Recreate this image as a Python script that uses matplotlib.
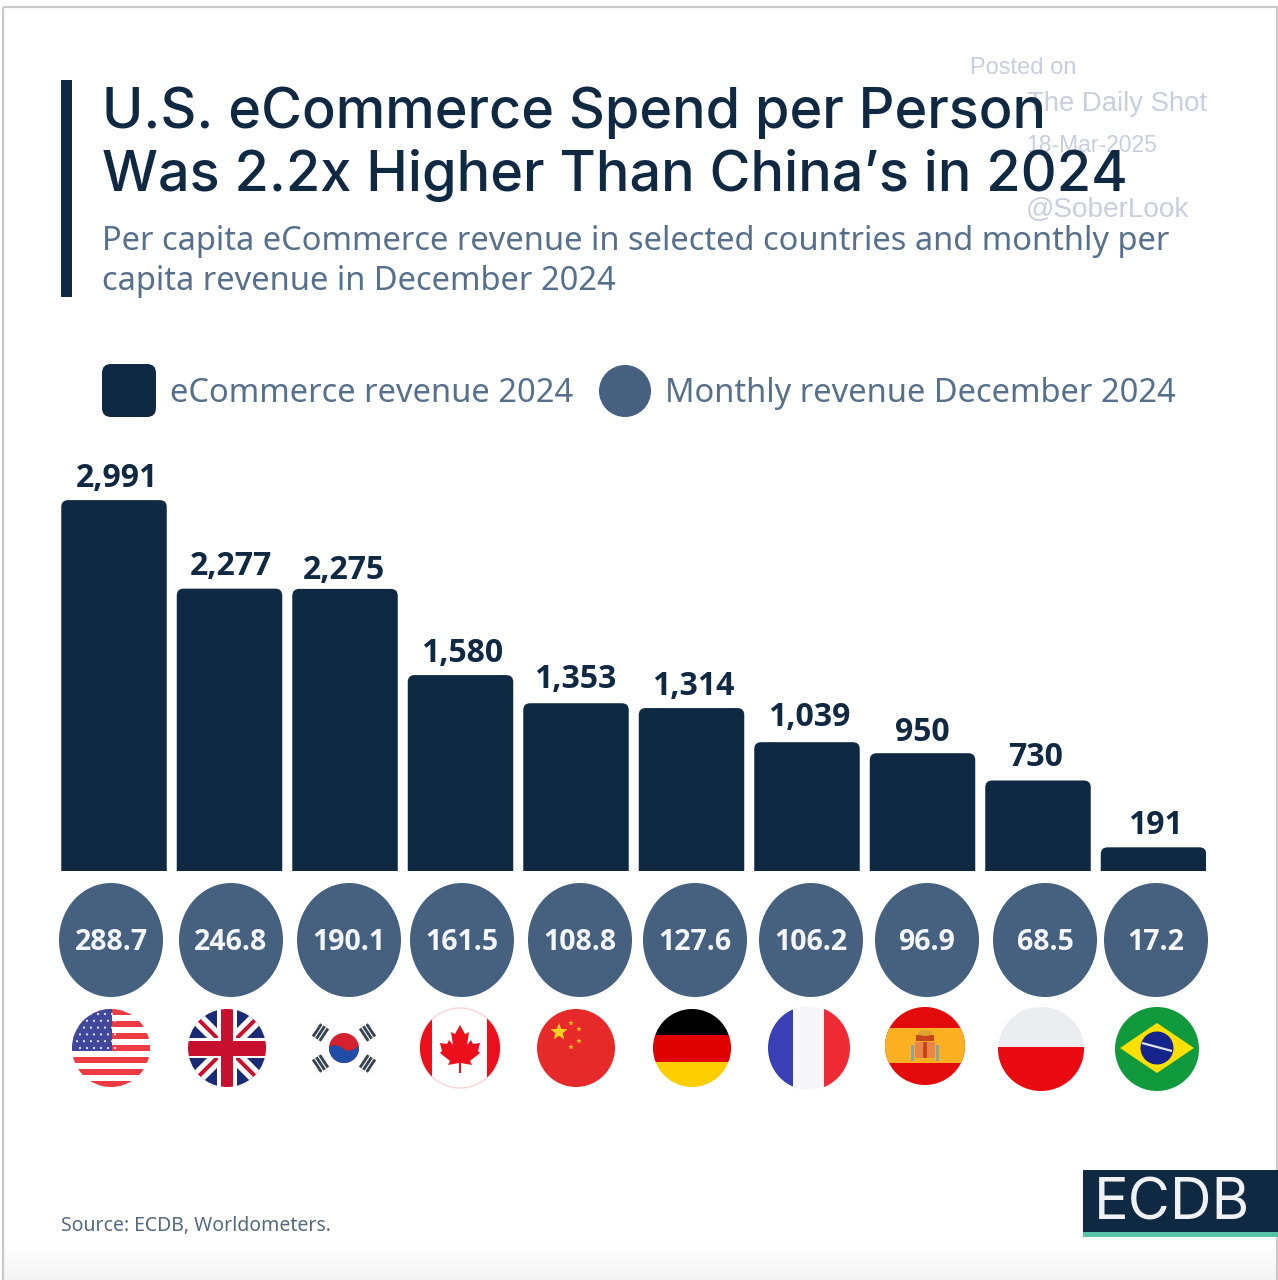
import numpy as np
import matplotlib
matplotlib.use("Agg")
import matplotlib.pyplot as plt
from matplotlib.patches import Rectangle, Ellipse, Circle, Polygon, FancyBboxPatch

# ECDB per capita eCommerce revenue chart

#---data---#
countries = ["USA", "UK", "South Korea", "Canada", "China", "Germany", "France", "Spain", "Poland", "Brazil"]
revenue_2024 = [2991, 2277, 2275, 1580, 1353, 1314, 1039, 950, 730, 191]
monthly_dec_2024 = [288.7, 246.8, 190.1, 161.5, 108.8, 127.6, 106.2, 96.9, 68.5, 17.2]

#---layout, in pixels---#
W, H = 1278, 1280
base_y = 871
px_per_unit = 0.124
bar_step = 115.5
first_center = 114
bar_w = 105.5 / bar_step
label_gap = [25, 25, 21, 25, 27, 25, 28, 24, 26, 25]
label_shift = [3, 1.5, -1.5, 2, -1, 1.5, 2.5, 0, -2, 1.5]
bubble_x = [111, 231, 349, 462, 580, 695, 811, 927, 1045, 1156]
flag_box = [(111, 1048, 39, 39), (227, 1048, 39, 39), (344, 1048, 39, 39), (460, 1048, 40, 40),
            (576, 1048, 39, 39), (692, 1048, 39, 39), (809, 1048, 41, 42), (925, 1046, 40, 39),
            (1041, 1049, 43, 42), (1157, 1049, 42, 42)]

#---colours---#
navy = "#0f2942"
slate = "#46607f"
sub_col = "#56708c"
mark_col = "#c8cfdb"

fig = plt.figure(figsize=(W / 100, H / 100), dpi=100, facecolor="white")

# full page axes in pixel coordinates
bg = fig.add_axes([0, 0, 1, 1])
bg.set_xlim(0, W)
bg.set_ylim(H, 0)
bg.axis("off")

# faint grey at the bottom of the page and the frame
shade = np.linspace(1.0, 0.955, 40).reshape(-1, 1)
bg.imshow(shade, extent=[4, W - 2, H, 1240], cmap="gray", vmin=0, vmax=1, aspect="auto", zorder=0)
bg.set_xlim(0, W)
bg.set_ylim(H, 0)
bg.add_patch(Rectangle((3, 7), W - 4, H, fc="none", ec="#c9c9c9", lw=1.6, zorder=1))

# watermark, under the title
wm = ["Liberation Sans"]
bg.text(1023, 68, "Posted on", color=mark_col, fontsize=17, family=wm, ha="center", va="center", zorder=2)
bg.text(1117, 104, "The Daily Shot", color=mark_col, fontsize=19.8, family=wm, ha="center", va="center", zorder=2)
bg.text(1092, 145, "18-Mar-2025", color=mark_col, fontsize=16.5, family=wm, ha="center", va="center", zorder=2)
bg.text(1107, 210, "@SoberLook", color=mark_col, fontsize=20.2, family=wm, ha="center", va="center", zorder=2)

# title block
title_font = dict(color=navy, fontsize=40.2, family="Inter", fontweight="medium", va="center", zorder=3)
bg.text(102, 113, "U.S. eCommerce Spend per Person", **title_font)
bg.text(102, 175, "Was 2.2x Higher Than China\u2019s in 2024", **title_font)
bg.add_patch(Rectangle((61, 80), 11, 217, fc=navy, ec="none", zorder=3))
bg.text(102, 241, "Per capita eCommerce revenue in selected countries and monthly per", color=sub_col,
        fontsize=23.5, family="Noto Sans", va="center", zorder=3)
bg.text(102, 281, "capita revenue in December 2024", color=sub_col,
        fontsize=23.5, family="Noto Sans", va="center", zorder=3)

# legend
bg.add_patch(FancyBboxPatch((102, 364), 54, 53, boxstyle="round,pad=0,rounding_size=9", fc=navy, ec="none"))
bg.add_patch(Circle((625, 391), 26, fc=slate, ec="none"))
bg.text(170, 393, "eCommerce revenue 2024", color=sub_col, fontsize=23.5, family="Noto Sans", va="center")
bg.text(665, 393, "Monthly revenue December 2024", color=sub_col, fontsize=23.5, family="Noto Sans", va="center")

#--- bars, on their own value axis ---#
ax_left, ax_right, ax_top = 61, 1206, 460
ax = fig.add_axes([ax_left / W, 1 - base_y / H, (ax_right - ax_left) / W, (base_y - ax_top) / H])
ax.set_xlim((ax_left - first_center) / bar_step, (ax_right - first_center) / bar_step)
ax.set_ylim(0, (base_y - ax_top) / px_per_unit)
ax.axis("off")
ax.patch.set_alpha(0)

for i, val in enumerate(revenue_2024):
    # box runs below zero, the axes clip gives the square foot
    ax.add_patch(FancyBboxPatch((i - bar_w / 2, -200), bar_w, val + 200,
                                boxstyle="round,pad=0,rounding_size=0.06",
                                mutation_aspect=bar_step / px_per_unit, fc=navy, ec="none"))
    ax.text(i + label_shift[i] / bar_step, val + (label_gap[i] - 3) / px_per_unit, f"{val:,}", color=navy,
            fontsize=23, family="Open Sans", fontweight="bold", ha="center", va="center", clip_on=False)

#--- monthly bubbles ---#
for x, val in zip(bubble_x, monthly_dec_2024):
    bg.add_patch(Ellipse((x, 940), 104, 114, fc=slate, ec="none"))
    bg.text(x, 942.5, f"{val:.1f}", color="#f4f6f8", fontsize=20.5, family="Open Sans",
            fontweight="bold", ha="center", va="center")


#--- flags ---#
def clipped(box):
    cx, cy, rx, ry = box
    clip = Ellipse((cx, cy), 2 * rx, 2 * ry, fc="none", ec="none")
    bg.add_patch(clip)

    def put(p):
        bg.add_patch(p)
        p.set_clip_path(clip)
        return p
    return put


def star(cx, cy, r, col):
    ang = np.pi / 2 + np.arange(10) * np.pi / 5
    rad = np.where(np.arange(10) % 2 == 0, r, r * 0.42)
    return Polygon(np.column_stack([cx + rad * np.cos(ang), cy - rad * np.sin(ang)]), fc=col, ec="none")


def rect(x0, y0, x1, y1, col):
    return Rectangle((x0, y0), x1 - x0, y1 - y0, fc=col, ec="none", lw=0)


def stripe(x0, y0, x1, y1, w, col):
    d = np.array([-(y1 - y0), x1 - x0], dtype=float)
    d = d / np.hypot(*d) * w / 2
    return Polygon([(x0 + d[0], y0 + d[1]), (x1 + d[0], y1 + d[1]), (x1 - d[0], y1 - d[1]), (x0 - d[0], y0 - d[1])],
                   fc=col, ec="none", lw=0)


def flag_usa(b):
    put = clipped(b)
    cx, cy, rx, ry = b
    put(rect(cx - rx, cy - ry, cx + rx, cy + ry, "white"))
    for k in range(0, 13, 2):
        y = cy - ry + k * 2 * ry / 13
        put(rect(cx - rx, y, cx + rx, y + 2 * ry / 13, "#ee3a43"))
    put(rect(cx - rx, cy - ry, cx + 1, cy + 3, "#41479b"))
    for r in range(6):
        for c in range(6):
            put(Circle((cx - rx + 5 + c * 7 + (r % 2) * 3, cy - ry + 5 + r * 6.8), 1.1, fc="#e6e8f5", ec="none"))


def flag_uk(b):
    put = clipped(b)
    cx, cy, rx, ry = b
    put(rect(cx - rx, cy - ry, cx + rx, cy + ry, "white"))
    blue = "#1a2a74"
    for sx, sy in [(-1, -1), (1, -1), (-1, 1), (1, 1)]:
        put(Polygon([(cx + sx * 10, cy + sy * 10), (cx + sx * 10, cy + sy * 40), (cx + sx * 40, cy + sy * 40),
                     (cx + sx * 40, cy + sy * 10)], fc=blue, ec="none"))
    put(stripe(cx - rx, cy - ry, cx + rx, cy + ry, 14, "white"))
    put(stripe(cx - rx, cy + ry, cx + rx, cy - ry, 14, "white"))
    put(stripe(cx - rx, cy - ry, cx + rx, cy + ry, 4, "#c8102e"))
    put(stripe(cx - rx, cy + ry, cx + rx, cy - ry, 4, "#c8102e"))
    put(rect(cx - 9, cy - ry, cx + 9, cy + ry, "white"))
    put(rect(cx - rx, cy - 10, cx + rx, cy + 10, "white"))
    put(rect(cx - 6, cy - ry, cx + 6, cy + ry, "#c8102e"))
    put(rect(cx - rx, cy - 7.5, cx + rx, cy + 7.5, "#c8102e"))


def flag_korea(b):
    cx, cy, rx, ry = b
    disc = Circle((cx, cy), 15, fc="#d3212d", ec="none")
    bg.add_patch(disc)
    wave = Polygon([(cx - 16, cy - 1), (cx - 9, cy - 3), (cx - 3, cy - 1), (cx + 3, cy + 3), (cx + 9, cy + 2),
                    (cx + 16, cy - 3), (cx + 16, cy + 16), (cx - 16, cy + 16)], fc="#1f4ea8", ec="none")
    bg.add_patch(wave)
    wave.set_clip_path(disc)
    for sx, sy in [(-1, -1), (1, -1), (-1, 1), (1, 1)]:
        mx, my = cx + sx * 23.5, cy + sy * 15.5
        u = np.array([sx * 0.83, sy * 0.55])
        t = np.array([-u[1], u[0]])
        for off in (-4, 0, 4):
            c = np.array([mx, my]) + u * off
            bg.add_patch(stripe(*(c - t * 7.5), *(c + t * 7.5), 2.9, "#3a4450"))


def flag_canada(b):
    put = clipped(b)
    cx, cy, rx, ry = b
    bg.add_patch(Ellipse((cx, cy), 2 * rx, 2 * ry, fc="white", ec="#f6d5d5", lw=1))
    red = "#ec0f1c"
    put(rect(cx - rx, cy - ry, cx - 28, cy + ry, red))
    put(rect(cx + 27, cy - ry, cx + rx, cy + ry, red))
    leaf = [(0, -23), (-5, -14), (-9, -16), (-7, -3), (-11, -8), (-13, -4), (-20, -5), (-18, 3), (-20, 5), (-10, 13),
            (-12, 17), (-1, 15), (-1, 25), (1, 25), (1, 15), (12, 17), (10, 13), (20, 5), (18, 3), (20, -5), (13, -4),
            (11, -8), (7, -3), (9, -16), (5, -14)]
    put(Polygon([(cx + a, cy + c) for a, c in leaf], fc=red, ec="none"))


def flag_china(b):
    put = clipped(b)
    cx, cy, rx, ry = b
    put(rect(cx - rx, cy - ry, cx + rx, cy + ry, "#e62a2a"))
    put(star(cx - 17, cy - 16, 9, "#ffd21f"))
    for dx, dy in [(-5, -25), (3, -19), (3, -7), (-5, -1)]:
        put(star(cx + dx, cy + dy, 2.8, "#ffc21f"))


def flag_germany(b):
    put = clipped(b)
    cx, cy, rx, ry = b
    put(rect(cx - rx, cy - ry, cx + rx, cy - ry / 3, "#000000"))
    put(rect(cx - rx, cy - ry / 3, cx + rx, cy + ry / 3 + 1, "#e00000"))
    put(rect(cx - rx, cy + ry / 3 + 1, cx + rx, cy + ry, "#ffce00"))


def flag_france(b):
    put = clipped(b)
    cx, cy, rx, ry = b
    put(rect(cx - rx, cy - ry, cx - 16, cy + ry, "#3a3fb5"))
    put(rect(cx - 16, cy - ry, cx + 15, cy + ry, "#f7f7fa"))
    put(rect(cx + 15, cy - ry, cx + rx, cy + ry, "#ee2b35"))


def flag_spain(b):
    put = clipped(b)
    cx, cy, rx, ry = b
    put(rect(cx - rx, cy - ry, cx + rx, cy + ry, "#e20a0a"))
    put(rect(cx - rx, cy - 18, cx + rx, cy + 17, "#fdb022"))
    # crest
    put(rect(cx - 14, cy - 1, cx - 11, cy + 15, "#8fa59a"))
    put(rect(cx + 11, cy - 1, cx + 14, cy + 15, "#8fa59a"))
    put(rect(cx - 10, cy - 4, cx + 10, cy + 12, "#e8864a"))
    put(rect(cx - 2, cy - 4, cx + 2, cy + 12, "#c8451c"))
    put(rect(cx - 9, cy - 11, cx + 9, cy - 5, "#c8451c"))
    put(Ellipse((cx, cy - 13), 14, 6, fc="#d9a52e", ec="none"))


def flag_poland(b):
    put = clipped(b)
    cx, cy, rx, ry = b
    put(rect(cx - rx, cy - ry, cx + rx, cy - 2, "#ecedf0"))
    put(rect(cx - rx, cy - 2, cx + rx, cy + ry, "#ea0a12"))


def flag_brazil(b):
    put = clipped(b)
    cx, cy, rx, ry = b
    put(rect(cx - rx, cy - ry, cx + rx, cy + ry, "#109a3d"))
    put(Polygon([(cx, cy - 26), (cx + 37, cy - 1), (cx, cy + 24), (cx - 37, cy - 1)], fc="#fee000", ec="none"))
    put(Circle((cx, cy - 1), 16.5, fc="#14248a", ec="none"))
    put(stripe(cx - 15, cy - 6, cx + 15, cy + 2, 2.2, "#dfe3ee"))


draw_flag = [flag_usa, flag_uk, flag_korea, flag_canada, flag_china, flag_germany, flag_france, flag_spain,
             flag_poland, flag_brazil]
for fn, box in zip(draw_flag, flag_box):
    fn(box)

# footer
bg.text(61, 1226, "Source: ECDB, Worldometers.", color="#56697f", fontsize=14, family="Noto Sans", va="center")
bg.add_patch(Rectangle((1083, 1170), 195, 62, fc=navy, ec="none", zorder=3))
bg.add_patch(Rectangle((1083, 1232), 195, 5, fc="#57c4a5", ec="none", zorder=3))
bg.text(1172, 1205, "ECDB", color="#f0f2f5", fontsize=41.5, family="Inter", fontweight="normal",
        ha="center", va="center", zorder=4)

fig.savefig("out.png", dpi=100, facecolor="white")
